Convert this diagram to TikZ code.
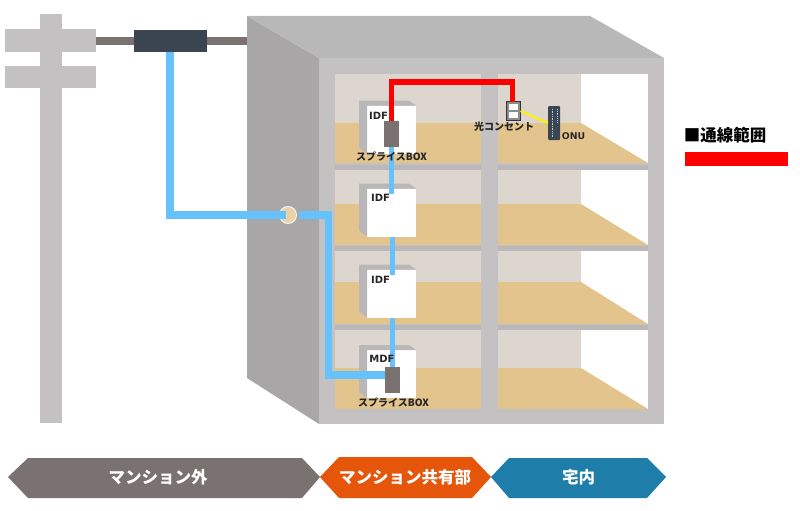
\documentclass[tikz,border=0pt]{standalone}
\usepackage{fontspec}
\setmainfont{Noto Sans CJK JP}
\newfontfamily\latinfont{DejaVu Sans}
\usetikzlibrary{positioning}
\definecolor{concrete}{HTML}{C3C1C1}
\definecolor{darkside}{HTML}{A8A6A6}
\definecolor{roofside}{HTML}{B8B8B8}
\definecolor{slabgray}{HTML}{BAB8B8}
\definecolor{wallbeige}{HTML}{DDD6CF}
\definecolor{floortan}{HTML}{E4C48D}
\definecolor{fiberblue}{HTML}{66C2FC}
\definecolor{dropgray}{HTML}{7A7270}
\definecolor{slategray}{HTML}{3B4552}
\definecolor{bandorange}{HTML}{E5560B}
\definecolor{bandblue}{HTML}{1F7DAA}
\tikzset{
  blockbox/.style={inner sep=0pt, outer sep=0pt},
  idfbox/.style={blockbox, fill=white, minimum width=49pt, minimum height=48pt},
  splicebox/.style={blockbox, fill=dropgray, minimum width=15pt, minimum height=26pt},
  fiber/.style={draw=fiberblue, line width=7.5pt},
  thinfiber/.style={draw=fiberblue, line width=5.5pt},
  smalltag/.style={inner sep=0pt, text=black!85, font=\bfseries\fontsize{10}{12}\selectfont},
  latintag/.style={inner sep=0pt, text=black!85, font=\latinfont\bfseries\fontsize{10}{12}\selectfont},
  bandtext/.style={inner sep=0pt, text=white, font=\bfseries\fontsize{16.5}{20}\selectfont}
}
\begin{document}
\begin{tikzpicture}[x=1pt, y=-1pt]
  \useasboundingbox (0,0) rectangle (800,511);

  % building
  \fill[darkside] (247,16) -- (319,58) -- (319,424) -- (247,378) -- cycle;
  \fill[roofside] (247,16) -- (590,16) -- (664,58) -- (319,58) -- cycle;
  \fill[concrete] (319,58) rectangle (664,424);
  \foreach \rt/\fl/\rb in {74/123/163, 170/204/245, 251/282/324, 330/368/409} {
    \fill[wallbeige] (335,\rt) rectangle (481,\fl);
    \fill[floortan] (335,\fl) rectangle (481,\rb);
    \fill[wallbeige] (498,\rt) rectangle (581,\fl);
    \fill[white] (581,\rt) rectangle (648,\rb);
    \fill[floortan] (498,\fl) -- (581,\fl) -- (648,\rb) -- (498,\rb) -- cycle;
  }
  \foreach \sl in {165, 246, 325} {
    \fill[slabgray] (335,\sl) rectangle (481,\sl+5);
    \fill[slabgray] (498,\sl) rectangle (648,\sl+5);
  }

  % pole
  \fill[concrete] (40,14) rectangle (62,423);
  \node[blockbox, fill=concrete, minimum width=91pt, minimum height=23pt] (armtop) at (50.5,41) {};
  \node[blockbox, fill=concrete, minimum width=91pt, minimum height=22pt] (armlow) at (50.5,77) {};

  % closure and drop cable
  \node[blockbox, fill=slategray, minimum width=73pt, minimum height=22pt] (closure) at (170,41) {};
  \coordinate (wallpoint) at (247,41);
  \draw[dropgray, line width=8pt] (armtop.east) -- (closure.west);
  \draw[dropgray, line width=8pt] (closure.east) -- (wallpoint);

  % wall entry
  \node[circle, fill=floortan!75!white, draw=white, line width=.8pt, minimum size=17pt, inner sep=0pt] (entry) at (288,215) {};
  \coordinate (entryin) at (286,215);
  \coordinate (entryout) at (299,215);
  \coordinate (riser) at (328.5,215);

  % boxes
  \foreach \nm/\cy in {idfa/129.5, idfb/212.5, idfc/293.5, mdf/374} {
    \node[idfbox] (\nm) at (391.5,\cy) {};
    \fill[black!28] (\nm.north west) -- ++(-8,-5) -- ++(50,0) -- (\nm.north east) -- cycle;
    \fill[concrete!95!black] (\nm.north west) -- ++(-8,-5) -- ++(0,47) -- (\nm.south west) -- cycle;
  }
  \node[splicebox] (splicea) at (391.5,134) {};
  \node[splicebox] (spliceb) at (392.5,379.5) {};

  % fiber
  \draw[fiber] (closure.south) |- (entryin);
  \draw[fiber] (entryout) -- (riser) |- ([yshift=4.5pt]spliceb.west);
  \draw[thinfiber, shorten >=-5pt] (splicea.south) -- (splicea.south |- idfb.north);
  \draw[thinfiber, shorten >=-5pt] ([xshift=1pt]idfb.south) -- ([xshift=1pt]idfb.south |- idfc.north);
  \draw[thinfiber] ([xshift=1pt]idfc.south) -- ([xshift=1pt]idfc.south |- spliceb.north);

  % home side
  \node[blockbox, draw=black!80, fill=black!45, line width=1.2pt, minimum width=14pt, minimum height=19pt] (outlet) at (513.5,111) {};
  \node[blockbox, fill=white, minimum width=9pt, minimum height=6pt] (outletup) at (513.5,107) {};
  \node[blockbox, fill=white, minimum width=9pt, minimum height=6pt] (outletlow) at (513.5,115) {};
  \node[blockbox, fill=slategray, rounded corners=1pt, minimum width=12pt, minimum height=34pt] (onu) at (554,123) {};
  \draw[white!70!slategray, densely dotted, line width=.7pt] ([xshift=-2pt,yshift=-3pt]onu.north) -- ([xshift=-2pt,yshift=3pt]onu.south);
  \draw[fiberblue!70!white, densely dotted, line width=.8pt] ([xshift=3pt,yshift=-3pt]onu.north) -- ([xshift=3pt,yshift=-16pt]onu.north);
  \draw[red, line width=5.5pt] (splicea.north) -- ++(0,-39) -| ([xshift=-1pt]outlet.north);
  \draw[yellow, line width=2pt] (outlet.east) -- (onu.west);

  % labels
  \node[latintag] (idfatag) at (378.5,115.5) {IDF};
  \node[latintag] (idfbtag) at (380.5,198) {IDF};
  \node[latintag] (idfctag) at (380.5,280) {IDF};
  \node[latintag] (mdftag) at (382,359) {MDF};
  \node[smalltag] (spliceatag) at (391.5,157) {スプライスBOX};
  \node[smalltag] (splicebtag) at (393.5,403) {スプライスBOX};
  \node[smalltag] (outlettag) at (504,127) {光コンセント};
  \node[latintag, font=\latinfont\bfseries\fontsize{9.3}{11}\selectfont] (onutag) at (573.5,136) {ONU};

  % legend
  \node[inner sep=0pt, text=black, font=\bfseries\fontsize{16.5}{20}\selectfont] (legendtag) at (725,135) {■通線範囲};
  \node[blockbox, fill=red, minimum width=103pt, minimum height=14pt] (legendbar) at (736.5,159) {};

  % bottom bands
  \fill[dropgray] (8,477) -- (28,458) -- (302,458) -- (320,477) -- (302,498) -- (28,498) -- cycle;
  \fill[bandorange] (320,477) -- (339,457) -- (472,457) -- (491,477) -- (472,498) -- (339,498) -- cycle;
  \fill[bandblue] (491,477) -- (509,458) -- (647,458) -- (666,477) -- (647,498) -- (509,498) -- cycle;
  \node[bandtext] (outside) at (158,477) {マンション外};
  \node[bandtext] (shared) at (405,477) {マンション共有部};
  \node[bandtext] (inhome) at (578.5,477) {宅内};
\end{tikzpicture}
\end{document}
